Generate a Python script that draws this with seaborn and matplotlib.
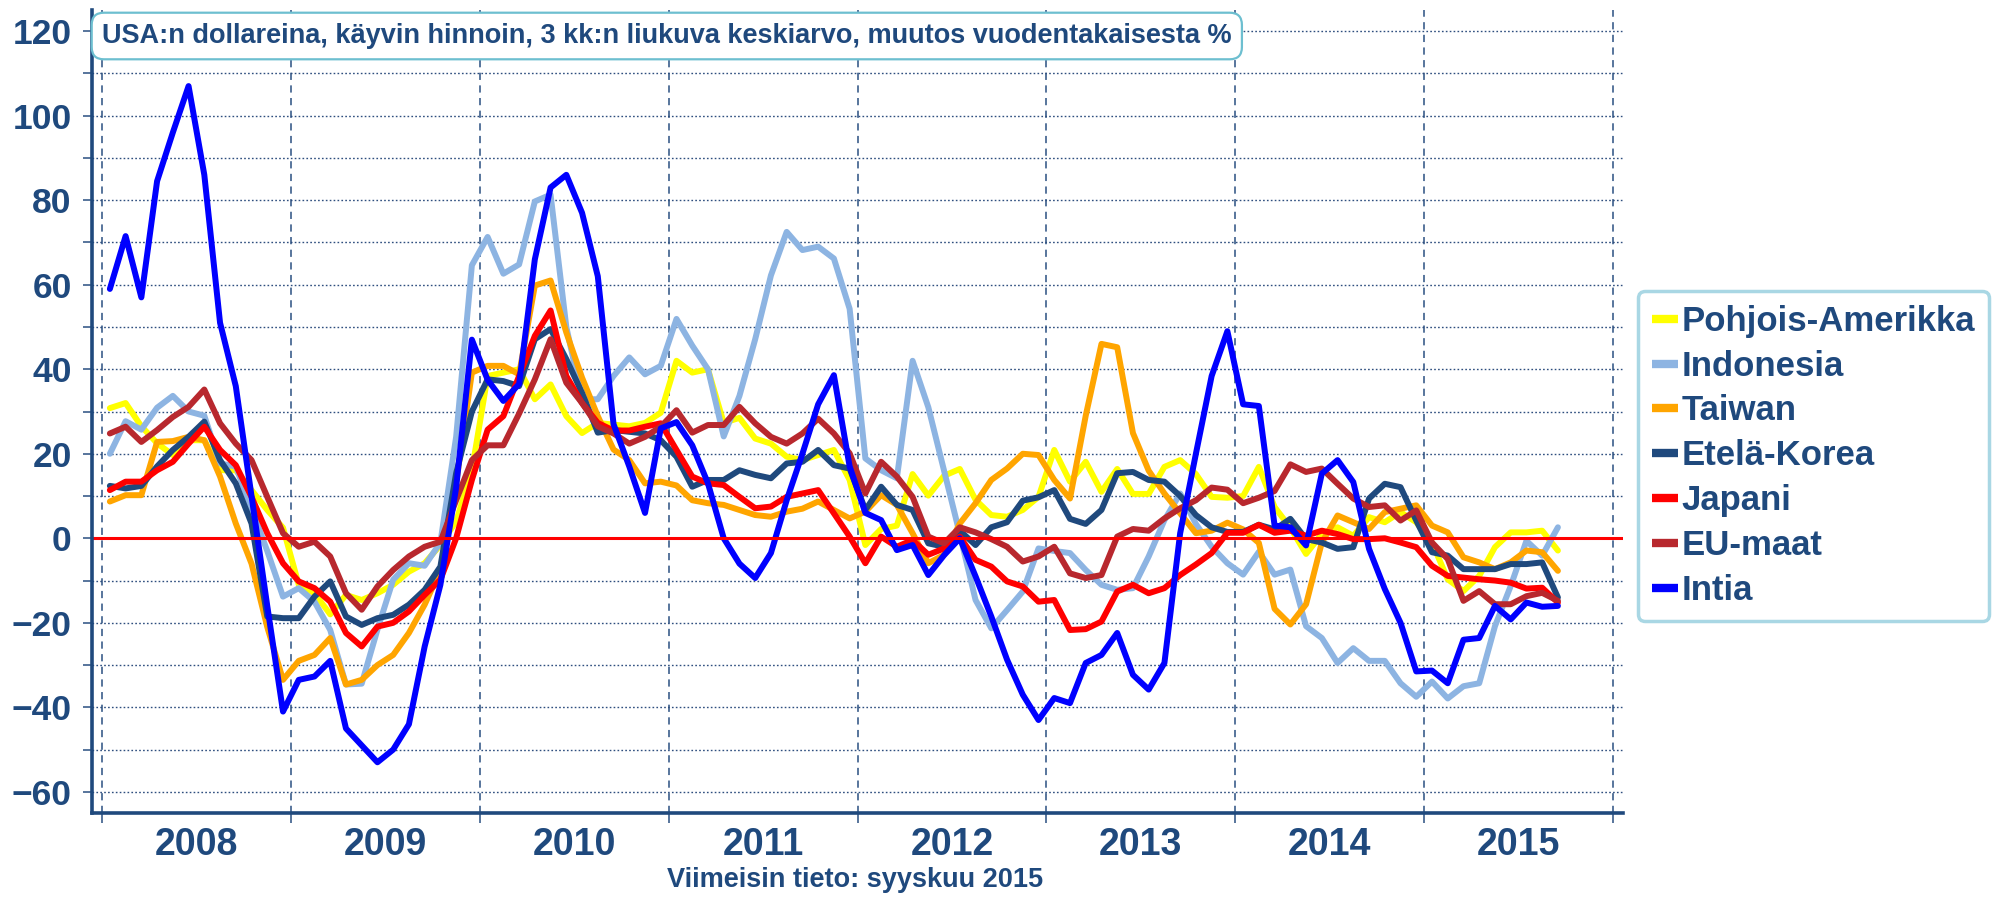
import numpy as np
import pandas as pd
import matplotlib
matplotlib.use("Agg")
import matplotlib.pyplot as plt
import seaborn as sns
from matplotlib import font_manager as fm
from matplotlib.lines import Line2D
from matplotlib.ticker import FixedLocator, FixedFormatter, NullFormatter, MultipleLocator

# ---------------- data (monthly, Jan 2008 .. Sep 2015) ----------------
series_names = ["Pohjois-Amerikka", "Indonesia", "Taiwan", "Etelä-Korea",
                "Japani", "EU-maat", "Intia"]
series_colors = ["#FFFF00", "#8DB4E2", "#FFA500", "#1F497D",
                 "#FF0000", "#B8282E", "#0000FF"]
year_labels = ["2008", "2009", "2010", "2011", "2012", "2013", "2014", "2015"]
title_text = "USA:n dollareina, käyvin hinnoin, 3 kk:n liukuva keskiarvo, muutos vuodentakaisesta %"
footer_text = "Viimeisin tieto: syyskuu 2015"

pohjois_amerikka = [
    30.8, 32, 26.5, 22.5, 19.7, 23.2, 23.2, 16.1, 16.1, 11.4, 6.7, 2.5,
    -11, -13, -18, -13.4, -14.6, -13, -11, -7.9, -5.9, -1.6, 4, 16,
    38.4, 39.2, 40, 32.9, 36.4, 28.9, 24.9, 27.3, 26.9, 26.5, 27.3, 29.7,
    42, 39.2, 40, 27.3, 28.5, 23.6, 22.4, 19.3, 18.5, 19.7, 20.9, 13.8,
    -1.6, 2.2, 3, 15.2, 10.1, 14.8, 16.4, 9.1, 5.5, 5.1, 6.7, 9.8,
    20.9, 13.4, 18.1, 11, 16.4, 10.5, 10.5, 16.9, 18.5, 15.2, 9.8, 9.6,
    10, 16.9, 7.4, 2.5, -3.7, 1, 2.6, 0.6, 5, 3.8, 6.2, 3.8,
    -1, -9.7, -12.5, -8.9, -2.1, 1.4, 1.4, 1.8, -2.9]
indonesia = [
    20, 27.7, 25.7, 30.9, 33.7, 30, 29, 17.7, 17, 7, -3, -13.8,
    -11.8, -15, -21.7, -34.6, -34.4, -21.6, -9.8, -5.9, -6.5, -1, 24, 64.6,
    71.3, 62.6, 64.8, 79.7, 81.3, 50, 32.9, 32.9, 38.4, 42.8, 38.8, 40.8,
    51.9, 45.6, 40, 24.1, 33.7, 47.1, 62.2, 72.5, 68.2, 69, 66.2, 54.3,
    18.9, 16.1, 14.2, 42, 31, 16, 1, -14.6, -21.3, -17, -12.6, -2.4,
    -3, -3.5, -7.5, -11, -12.2, -11.8, -4.3, 4.3, 10.6, 3.4, -2, -5.9,
    -8.6, -3.2, -8.6, -7.4, -20.8, -23.6, -29.5, -26, -29, -29, -34.3, -37.5,
    -33.9, -37.9, -35, -34.3, -20.8, -11.3, -0.6, -4.1, 2.6]
taiwan = [
    8.7, 10.2, 10.2, 22.8, 23, 24, 23.2, 14.6, 3.5, -6, -21, -33.5,
    -29, -27.6, -23.6, -34.6, -33.5, -30, -27.6, -22.4, -15.7, -7.5, 13, 39.2,
    40.8, 40.8, 38.8, 59.8, 61, 48.7, 38, 28.9, 21, 18.5, 13, 13.4,
    12.5, 9, 8.3, 7.9, 6.7, 5.5, 5.1, 6.3, 7, 8.7, 6.7, 4.7,
    6.3, 10.2, 7.9, 1.2, -5.9, -3.9, 3.5, 8.3, 13.8, 16.5, 20, 19.7,
    13.8, 9.4, 29, 46, 45.2, 24.9, 16, 10.6, 5.9, 1.2, 1.8, 3.7,
    2.1, -1.1, -16.7, -20.4, -15.6, -1, 5.4, 3.8, 2.2, 6.2, 7, 7.8,
    3, 1.4, -4.5, -5.7, -7.3, -5.7, -2.9, -3.3, -7.7]
etela_korea = [
    12.4, 11.8, 12.4, 17, 20.9, 24, 27.6, 18.5, 13, 3.5, -18.5, -18.9,
    -18.9, -13.8, -10.2, -18.5, -20.5, -18.9, -18.1, -15.7, -12.2, -6.7, 15.4, 30,
    37.6, 37.2, 36, 47.1, 49.5, 42.4, 34.4, 25, 25.6, 25.2, 24.8, 23.2,
    19.3, 12.2, 13.8, 13.8, 16.1, 15, 14.2, 17.7, 18.1, 20.9, 17.3, 16.5,
    6.7, 12.2, 7.9, 6.7, -1.2, -2, 1.8, -1.6, 2.6, 3.8, 8.9, 9.7,
    11.4, 4.6, 3.4, 6.7, 15.4, 15.7, 13.8, 13.4, 10, 5.5, 2.6, 1.5,
    1.5, 3.2, 2.1, 4.6, -0.2, -1, -2.5, -2.1, 9.4, 12.9, 12.1, 4.2,
    -3.3, -4.1, -7.3, -7.3, -7.3, -6.1, -6.1, -5.7, -14]
japani = [
    11.4, 13.4, 13.4, 16.1, 18.1, 22.4, 26.4, 20.9, 17.3, 9.8, 1.2, -5.9,
    -10.2, -11.8, -15, -22.4, -25.6, -20.9, -20, -17.3, -13.4, -9.8, 0, 13.8,
    25.7, 28.9, 38.4, 47.9, 53.9, 38.4, 32, 27.3, 25.5, 25.5, 26.4, 27.2,
    20.9, 14.6, 13, 12.6, 9.8, 7.1, 7.5, 9.8, 10.6, 11.4, 5.9, 0.4,
    -5.9, 0.4, -2, -0.4, -3.9, -2.4, 0.4, -5.1, -6.7, -10.2, -11.4, -15,
    -14.6, -21.7, -21.5, -19.7, -12.6, -11, -13, -11.8, -8.7, -6.2, -3.5, 1.3,
    1.3, 3.2, 1.3, 1.8, 0.6, 1.8, 1, -0.2, -0.2, 0, -1, -2.1,
    -6.5, -8.9, -9.3, -9.7, -10, -10.5, -11.9, -11.7, -15.2]
eu_maat = [
    24.8, 26.4, 22.8, 25.6, 28.7, 31.1, 35.2, 27.2, 22.4, 18.5, 9.8, 1.2,
    -2, -0.8, -4.3, -13, -16.9, -11.4, -7.5, -4.3, -2, -0.8, 9, 18.5,
    22, 22, 29.5, 37.6, 47.1, 36.8, 32, 26.5, 24.8, 22.4, 24, 26.4,
    30.3, 25, 26.8, 26.8, 31.1, 27.2, 24, 22.4, 24.8, 28.3, 24.8, 20.1,
    10.6, 18.1, 14.6, 9.8, 0.4, -1.2, 2.6, 1.4, -0.2, -2, -5.5, -4.3,
    -2, -8.3, -9.4, -8.7, 0.4, 2.2, 1.8, 4.7, 7.1, 9, 12, 11.5,
    8.3, 9.6, 11.2, 17.5, 15.7, 16.5, 12.9, 9.4, 7.4, 7.8, 4.2, 6.6,
    -1, -4.9, -14.8, -12.5, -15.6, -15.6, -13.7, -12.9, -14.8]
intia = [
    59, 71.5, 57, 84.5, 96, 107, 86, 51, 36, 10, -16, -41,
    -33.5, -32.7, -29, -45, -49, -53, -50, -44, -25.6, -11, 12, 47,
    37.5, 32.5, 36.5, 66, 83, 86, 77, 62, 27, 17, 6, 26,
    27.5, 22, 13, 0, -6, -9.4, -3.5, 9, 20, 31.7, 38.6, 17,
    6, 4.3, -2.8, -1.6, -8.7, -4, 0, -9, -18.5, -28.7, -37, -43,
    -37.8, -39, -29.5, -27.6, -22.4, -32.3, -35.8, -29.5, 1.2, 20, 38.4, 49,
    31.7, 31.3, 3, 2.6, -1.7, 15.3, 18.5, 13.3, -2.5, -12, -20, -31.5,
    -31.3, -34.3, -24, -23.6, -16, -19.2, -15.2, -16.2, -16]

all_values = [pohjois_amerikka, indonesia, taiwan, etela_korea, japani, eu_maat, intia]
n_months = len(intia)
t = 2008 + (np.arange(n_months) + 0.5) / 12.0

df = pd.concat([pd.DataFrame({"t": t, "v": vals, "sarja": name})
                for name, vals in zip(series_names, all_values)], ignore_index=True)

# ---------------- style ----------------
sns.set_theme(style="white")
names = {f.name for f in fm.fontManager.ttflist}
HAS_NARROW = "Liberation Sans Narrow" in names
BASE = ["Liberation Sans", "DejaVu Sans"]
NARROW = ["Liberation Sans Narrow"] + BASE if HAS_NARROW else BASE
plt.rcParams["font.family"] = BASE
TXT = "#1F497D"

fig = plt.figure(figsize=(20.01, 8.97), dpi=100)
L, R, B, T = 92, 1623, 813, 10
W, H = 2001, 897
ax = fig.add_axes([L / W, (H - B) / H, (R - L) / W, (B - T) / H])

palette = dict(zip(series_names, series_colors))
sns.lineplot(data=df, x="t", y="v", hue="sarja", hue_order=series_names,
             palette=palette, linewidth=4.3, sort=False, estimator=None,
             legend=False, ax=ax, zorder=3)

ax.axhline(0, color="#FF0000", lw=2.2, zorder=5)

ax.set_xlim(2008 - 10 / 188.9, 2016 + 10 / 188.9)
ax.set_ylim(-65, 125)
ax.set_xlabel("")
ax.set_ylabel("")

# spines
for s in ["top", "right"]:
    ax.spines[s].set_visible(False)
for s in ["left", "bottom"]:
    ax.spines[s].set_color(TXT)
    ax.spines[s].set_linewidth(2.6)
    ax.spines[s].set_zorder(6)

# x ticks: year boundaries (major, no labels), year middles (minor, labels)
ax.xaxis.set_major_locator(FixedLocator(np.arange(2008, 2017)))
ax.xaxis.set_major_formatter(NullFormatter())
ax.xaxis.set_minor_locator(FixedLocator(np.arange(2008, 2016) + 0.5))
ax.xaxis.set_minor_formatter(FixedFormatter(year_labels))
ax.tick_params(axis="x", which="major", direction="out", length=7, width=1.3,
               color="#4A6A94", bottom=True)
ax.tick_params(axis="x", which="minor", length=0, pad=10, labelsize=27,
               labelcolor=TXT, bottom=True)
for lab in ax.xaxis.get_minorticklabels():
    lab.set_fontweight("bold")

# y ticks
ax.yaxis.set_major_locator(MultipleLocator(20))
ax.yaxis.set_minor_locator(MultipleLocator(10))
ax.tick_params(axis="y", which="both", direction="out", length=6.5, width=1.3,
               color="#4A6A94", left=True)
ax.tick_params(axis="y", which="major", pad=8,
               labelsize=(28 if HAS_NARROW else 25.5), labelcolor=TXT)
for lab in ax.get_yticklabels():
    lab.set_fontweight("bold")
    lab.set_family(NARROW)

# grids
ax.grid(axis="y", which="both", linestyle=(0, (1.2, 1.6)), color="#2E4E7E", lw=1.0)
ax.grid(axis="x", which="major", linestyle=(0, (4, 3)), color="#4A6A94", lw=1.3)
ax.grid(axis="x", which="minor", visible=False)
ax.set_axisbelow(True)

# title box
fig.text(102 / W, 1 - 36 / H, title_text, ha="left", va="center",
         fontsize=(21.5 if HAS_NARROW else 19.5), fontweight="bold", color=TXT,
         family=NARROW, zorder=10,
         bbox=dict(boxstyle="round,pad=0.38,rounding_size=0.45", fc="white",
                   ec="#6DBFD0", lw=1.6))

# footer
fig.text(855 / W, 1 - 880 / H, footer_text, ha="center", va="center",
         fontsize=19.5, fontweight="bold", color=TXT)

# legend
handles = [Line2D([0], [0], color=c, lw=6, solid_capstyle="butt")
           for c in series_colors]
leg = fig.legend(handles, series_names, loc="upper left",
                 bbox_to_anchor=(1638 / W, 1 - 291 / H), borderaxespad=0,
                 frameon=True, fancybox=True, handlelength=0.75,
                 handletextpad=0.1, labelspacing=0.34, borderpad=0.4,
                 prop=dict(family=BASE, weight="bold", size=25))
for txt in leg.get_texts():
    txt.set_color(TXT)
fr = leg.get_frame()
fr.set_edgecolor("#A9D7E4")
fr.set_linewidth(2.5)
fr.set_facecolor("white")
fr.set_alpha(1)

fig.savefig("out.png", dpi=100)
